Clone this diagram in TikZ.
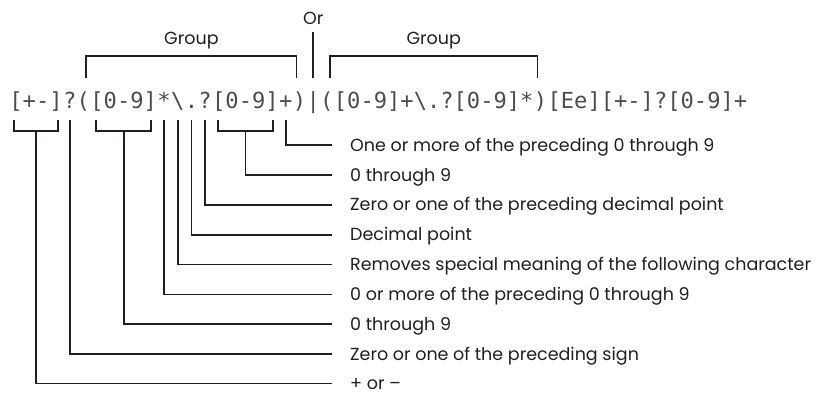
\documentclass[tikz,border=0pt]{standalone}
\usepackage{fontspec}
\setmainfont{Poppins}
\setmonofont{DejaVu Sans Mono}
\usetikzlibrary{positioning,calc}

\definecolor{ink}{HTML}{231F20}

\tikzset{
  regex/.style={font=\ttfamily\fontsize{22.1}{24}\selectfont, text=ink!80,
    inner sep=0pt, text height=17pt, text depth=5pt},
  note/.style={font=\fontsize{17.5}{20}\selectfont, text=ink, inner sep=0pt,
    text height=12.2pt, text depth=0pt, anchor=west},
  tag/.style={font=\fontsize{17.5}{20}\selectfont, text=ink, inner sep=0pt, anchor=base},
  lead/.style={draw=ink, line width=1.8pt},
}

\begin{document}
\begin{tikzpicture}[x=1pt,y=-1pt]
  \useasboundingbox (0,0) rectangle (835,392);
  % the expression, one node per piece
  \node[regex, anchor=base west] (sgn) at (9.2,108.4) {[+-]};
  \node[regex, right=0pt of sgn] (optsgn) {?};
  \node[regex, right=0pt of optsgn] (lpA) {(};
  \node[regex, right=0pt of lpA] (digA) {[0-9]};
  \node[regex, right=0pt of digA] (star) {*};
  \node[regex, right=0pt of star] (esc) {\textbackslash};
  \node[regex, right=0pt of esc] (dot) {.};
  \node[regex, right=0pt of dot] (optdot) {?};
  \node[regex, right=0pt of optdot] (digB) {[0-9]};
  \node[regex, right=0pt of digB] (plus) {+};
  \node[regex, right=0pt of plus] (rpA) {)};
  \node[regex, right=0pt of rpA] (bar) {|};
  \node[regex, right=0pt of bar] (lpB) {(};
  \node[regex, right=0pt of lpB] (mid) {[0-9]+\textbackslash.?[0-9]*};
  \node[regex, right=0pt of mid] (rpB) {)};
  \node[regex, right=0pt of rpB] (tail) {[Ee][+-]?[0-9]+};

  % groups and the alternative above
  \draw[lead] ([xshift=3pt,yshift=13pt]lpA.north) -- ++(0,-22) -| ([xshift=-3pt,yshift=13pt]rpA.north);
  \draw[lead] ([xshift=3pt,yshift=13pt]lpB.north) -- ++(0,-22) -| ([xshift=-3pt,yshift=13pt]rpB.north);
  \node[tag] (grpA) at ($(lpA.north)!.5!(rpA.north)+(0,-46.4)$) {Group};
  \node[tag] (grpB) at ($(lpB.north)!.5!(rpB.north)+(0,-46.4)$) {Group};
  \node[tag] (orlbl) at ([yshift=66.4pt]bar.north) {Or};
  \draw[lead] ([yshift=13pt]bar.north) -- ([yshift=-7pt]orlbl.base);

  % explanations
  \node[note] (one) at (350,145) {One or more of the preceding 0 through 9};
  \node[note] (two) at (350,174.9) {0 through 9};
  \node[note] (three) at (350,204.8) {Zero or one of the preceding decimal point};
  \node[note] (four) at (350,234.6) {Decimal point};
  \node[note] (five) at (350,264.5) {Removes special meaning of the following character};
  \node[note] (six) at (350,294.4) {0 or more of the preceding 0 through 9};
  \node[note] (seven) at (350,324.3) {0 through 9};
  \node[note] (eight) at (350,354.1) {Zero or one of the preceding sign};
  \node[note] (nine) at (350,383.5) {+ or --};

  % brackets under the character classes
  \draw[lead] ([xshift=5pt,yshift=-6.6pt]sgn.south west) -- ++(0,11) -| ([xshift=-5pt,yshift=-6.6pt]sgn.south east);
  \draw[lead] ([xshift=6pt,yshift=-6.6pt]digA.south west) -- ++(0,11) -| ([xshift=-6pt,yshift=-6.6pt]digA.south east);
  \draw[lead] ([xshift=6pt,yshift=-6.6pt]digB.south west) -- ++(0,11) -| ([xshift=-6pt,yshift=-6.6pt]digB.south east);

  % leaders to the explanations
  \draw[lead] ([yshift=-6.6pt]plus.south) |- ([xshift=-18pt]one.west);
  \draw[lead] ([yshift=-17.6pt]digB.south) |- ([xshift=-18pt]two.west);
  \draw[lead] ([yshift=-6.6pt]optdot.south) |- ([xshift=-18pt]three.west);
  \draw[lead] ([yshift=-6.6pt]dot.south) |- ([xshift=-18pt]four.west);
  \draw[lead] ([yshift=-6.6pt]esc.south) |- ([xshift=-18pt]five.west);
  \draw[lead] ([yshift=-6.6pt]star.south) |- ([xshift=-18pt]six.west);
  \draw[lead] ([yshift=-17.6pt]digA.south) |- ([xshift=-18pt]seven.west);
  \draw[lead] ([yshift=-6.6pt]optsgn.south) |- ([xshift=-18pt]eight.west);
  \draw[lead] ([yshift=-17.6pt]sgn.south) |- ([xshift=-18pt]nine.west);
\end{tikzpicture}
\end{document}
